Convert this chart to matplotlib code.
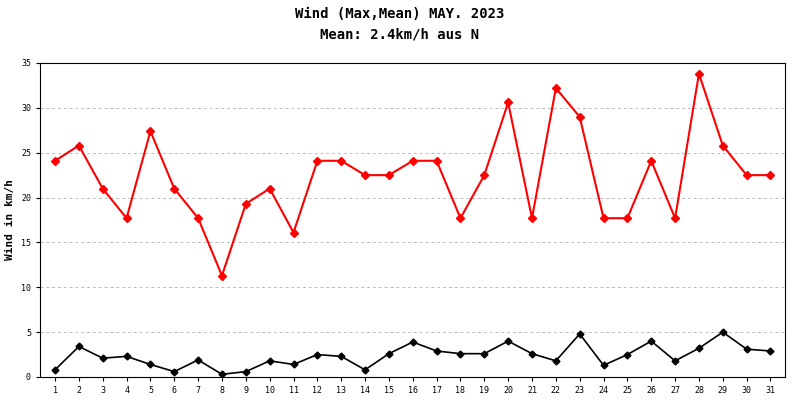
import matplotlib
matplotlib.use("Agg")
import matplotlib.pyplot as plt

days = list(range(1, 32))
wind_max = [24.1, 25.8, 21.0, 17.7, 27.4, 21.0, 17.7, 11.3, 19.3, 21.0, 16.1,
            24.1, 24.1, 22.5, 22.5, 24.1, 24.1, 17.7, 22.5, 30.6, 17.7, 32.2,
            29.0, 17.7, 17.7, 24.1, 17.7, 33.8, 25.8, 22.5, 22.5]
wind_mean = [0.8, 3.4, 2.1, 2.3, 1.4, 0.6, 1.9, 0.3, 0.6, 1.8, 1.4, 2.5, 2.3,
             0.8, 2.6, 3.9, 2.9, 2.6, 2.6, 4.0, 2.6, 1.8, 4.8, 1.3, 2.5, 4.0,
             1.8, 3.2, 5.0, 3.1, 2.9]

font = "DejaVu Sans Mono"
fig = plt.figure(figsize=(8, 4), dpi=100)
ax = fig.add_axes([0.05, 0.0575, 0.931, 0.785])

ax.plot(days, wind_max, color="#ff0000", marker="D", markersize=4, linewidth=1.5)
ax.plot(days, wind_mean, color="black", marker="D", markersize=3.5, linewidth=1.2)

ax.set_xlim(0.37, 31.6)
ax.set_ylim(0, 35)
ax.set_xticks(days)
ax.set_yticks(range(0, 36, 5))
ax.tick_params(labelsize=6, length=3, direction="out")
for lab in ax.get_xticklabels() + ax.get_yticklabels():
    lab.set_family(font)
ax.grid(axis="y", color="#bbbbbb", linestyle=(0, (3, 3)), linewidth=0.7)
ax.set_axisbelow(True)
ax.set_ylabel("Wind in km/h", fontsize=8, fontweight="bold", family=font)

fig.text(0.5, 0.965, "Wind (Max,Mean) MAY. 2023", ha="center", va="center",
         fontsize=10, family=font, fontweight="bold")
fig.text(0.5, 0.915, "Mean: 2.4km/h aus N", ha="center", va="center",
         fontsize=10, family=font, fontweight="bold")

fig.savefig("out.png", dpi=100)
